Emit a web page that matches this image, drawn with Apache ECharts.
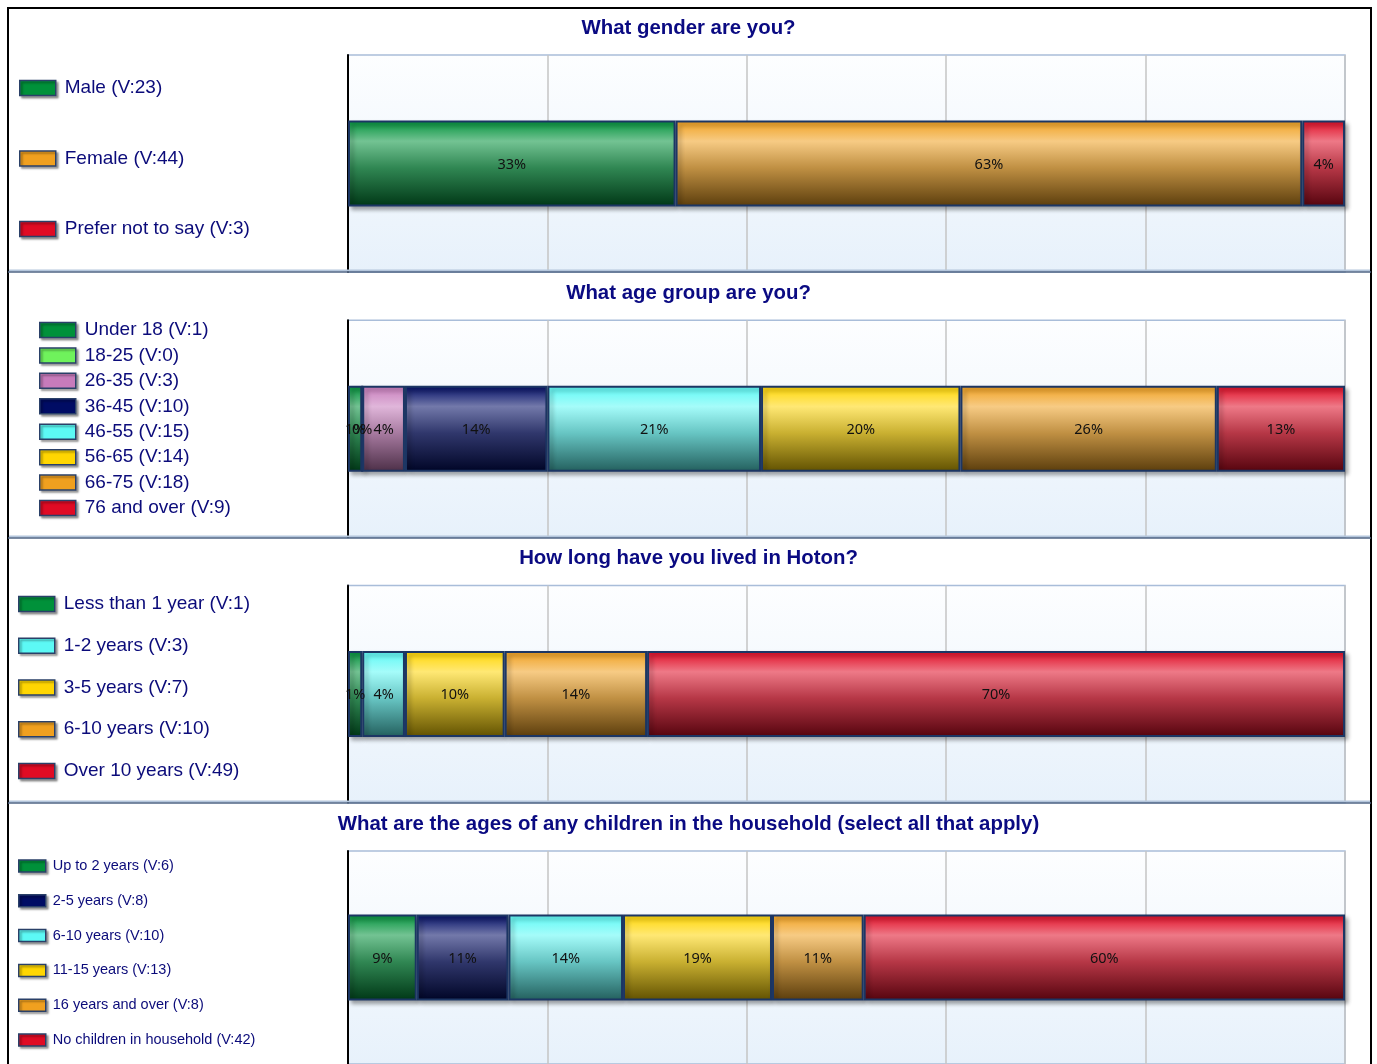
<!DOCTYPE html>
<html>
<head>
<meta charset="utf-8">
<title>Hoton survey – respondent profile</title>
<script src="https://cdn.jsdelivr.net/npm/echarts@6/dist/echarts.min.js"></script>
<style>
  html, body { margin: 0; padding: 0; background: #ffffff; }
  #chart { width: 1377px; height: 1064px; }
</style>
</head>
<body>
<div id="chart"></div>
<script>
// ---- Survey questions and answers ----
const questionTitles = [
  'What gender are you?',
  'What age group are you?',
  'How long have you lived in Hoton?',
  'What are the ages of any children in the household (select all that apply)'
];

const genderNames = ['Male', 'Female', 'Prefer not to say'];
const genderValues = [23, 44, 3];

const ageNames = ['Under 18', '18-25', '26-35', '36-45', '46-55', '56-65', '66-75', '76 and over'];
const ageValues = [1, 0, 3, 10, 15, 14, 18, 9];

const residenceNames = ['Less than 1 year', '1-2 years', '3-5 years', '6-10 years', 'Over 10 years'];
const residenceValues = [1, 3, 7, 10, 49];

const childNames = ['Up to 2 years', '2-5 years', '6-10 years', '11-15 years', '16 years and over', 'No children in household'];
const childValues = [6, 8, 10, 13, 8, 42];

// number of people answering each question (percent labels are out of this)
const respondents = [70, 70, 70, 70];

// ---- Colours ----
const GREEN = '#00913a', LIME = '#6ff25c', PINK = '#c77bbb', NAVY = '#000c64',
      CYAN = '#5cf9f5', YELLOW = '#ffd602', ORANGE = '#f0a01f', RED = '#e00b24';

const genderColors = [GREEN, ORANGE, RED];
const ageColors = [GREEN, LIME, PINK, NAVY, CYAN, YELLOW, ORANGE, RED];
const residenceColors = [GREEN, CYAN, YELLOW, ORANGE, RED];
const childColors = [GREEN, NAVY, CYAN, YELLOW, ORANGE, RED];

const questions = [
  { names: genderNames, values: genderValues, colors: genderColors },
  { names: ageNames, values: ageValues, colors: ageColors },
  { names: residenceNames, values: residenceValues, colors: residenceColors },
  { names: childNames, values: childValues, colors: childColors }
];

// ---- Layout ----
const PANEL_H = 265.3;
const GRID_LEFT = 348, GRID_WIDTH = 997, GRID_HEIGHT = 217;
const gridTops = [55, 55 + PANEL_H, 55 + 2 * PANEL_H, 851];
const titleTops = [17, 17 + PANEL_H, 17 + 2 * PANEL_H, 813];
const separators = [272, 538, 803];

const legendLayouts = [
  { left: 19, top: 78,  w: 36, h: 15, gap: 50.5,  size: 19,   lh: 20, pad: 4 },
  { left: 39, top: 320, w: 36, h: 15, gap: 5.43,  size: 19,   lh: 20, pad: 4 },
  { left: 18, top: 594, w: 36, h: 15, gap: 21.75, size: 19,   lh: 20, pad: 4 },
  { left: 18, top: 858, w: 27, h: 12, gap: 18.8,  size: 14.5, lh: 16, pad: 2 }
];

// ---- Helpers ----
function hexToRgb(hex) {
  const n = parseInt(hex.slice(1), 16);
  return [(n >> 16) & 255, (n >> 8) & 255, n & 255];
}
function mix(hex, target, t) {
  const c = hexToRgb(hex);
  const r = c.map((v, i) => Math.round(v + (target[i] - v) * t));
  return 'rgb(' + r.join(',') + ')';
}
// glossy cylinder-like shading across the bar's height
function barGradient(hex) {
  return new echarts.graphic.LinearGradient(0, 0, 0, 1, [
    { offset: 0,    color: hex },
    { offset: 0.24, color: mix(hex, [255, 255, 255], 0.45) },
    { offset: 0.55, color: mix(hex, [120, 120, 120], 0.4) },
    { offset: 1,    color: mix(hex, [0, 0, 0], 0.62) }
  ]);
}

const chart = echarts.init(document.getElementById('chart'), null, { renderer: 'canvas' });

const title = [], grid = [], xAxis = [], yAxis = [], legend = [], series = [];

questions.forEach((q, qi) => {
  const total = q.values.reduce((a, b) => a + b, 0);

  title.push({
    text: questionTitles[qi],
    left: 'center',
    top: titleTops[qi],
    padding: 0,
    textStyle: { color: '#0a0a82', fontSize: 20.4, fontWeight: 'bold', fontFamily: 'Liberation Sans, Arial, sans-serif', lineHeight: 22 }
  });

  grid.push({
    left: GRID_LEFT, width: GRID_WIDTH, top: gridTops[qi], height: GRID_HEIGHT,
    show: true,
    backgroundColor: new echarts.graphic.LinearGradient(0, 0, 0, 1, [
      { offset: 0, color: '#fdfeff' },
      { offset: 1, color: '#e7f1fb' }
    ]),
    borderColor: '#a9bdd9',
    borderWidth: 1.5
  });

  xAxis.push({
    type: 'value', gridIndex: qi, min: 0, max: total, interval: total / 5,
    axisLabel: { show: false }, axisTick: { show: false }, axisLine: { show: false },
    splitLine: { show: true, lineStyle: { color: '#c4c4c4', width: 1.5 } }
  });

  yAxis.push({
    type: 'category', gridIndex: qi, data: [''],
    axisLabel: { show: false }, axisTick: { show: false },
    axisLine: { show: true, lineStyle: { color: '#000000', width: 2 } },
    splitLine: { show: false }
  });

  const L = legendLayouts[qi];
  const valueOf = {};
  q.names.forEach((n, i) => { valueOf[n] = q.values[i]; });
  legend.push({
    orient: 'vertical',
    left: L.left, top: L.top,
    itemWidth: L.w, itemHeight: L.h, itemGap: L.gap,
    padding: 0,
    selectedMode: false,
    icon: 'rect',
    itemStyle: {
      borderColor: '#2a4068', borderWidth: 1.5,
      shadowColor: 'rgba(0,0,0,0.35)', shadowBlur: 2, shadowOffsetX: 2, shadowOffsetY: 2
    },
    textStyle: {
      color: '#0b0b7a', fontSize: L.size, lineHeight: L.lh,
      fontFamily: 'Liberation Sans, Arial, sans-serif', padding: [0, 0, 0, L.pad]
    },
    formatter: name => name + ' (V:' + valueOf[name] + ')',
    data: q.names.map((n, i) => ({ name: n, itemStyle: { color: q.colors[i] } }))
  });

  q.names.forEach((n, i) => {
    series.push({
      type: 'bar',
      name: n,
      stack: 'q' + qi,
      xAxisIndex: qi, yAxisIndex: qi,
      barWidth: 86,
      data: [q.values[i]],
      itemStyle: {
        color: barGradient(q.colors[i]),
        borderColor: '#1c3664', borderWidth: 2,
        shadowColor: 'rgba(0,0,0,0.32)', shadowBlur: 4, shadowOffsetX: 3, shadowOffsetY: 3
      },
      label: {
        show: true, position: 'inside', offset: [0, 1],
        color: '#111111', fontSize: 14.5, fontFamily: 'Noto Sans, DejaVu Sans, sans-serif',
        formatter: p => Math.round(p.value / respondents[qi] * 100) + '%'
      },
      emphasis: { disabled: true },
      animation: false
    });
  });
});

// panel frame and dividers
const graphic = [
  {
    type: 'rect', z: 100, silent: true,
    shape: { x: 8, y: 8, width: 1363, height: 1080 },
    style: { fill: null, stroke: '#000000', lineWidth: 2 }
  }
];
separators.forEach(y => {
  graphic.push({
    type: 'line', z: 99, silent: true,
    shape: { x1: 8, y1: y - 1.5, x2: 1371, y2: y - 1.5 },
    style: { stroke: '#b4c6dc', lineWidth: 2 }
  });
  graphic.push({
    type: 'line', z: 100, silent: true,
    shape: { x1: 8, y1: y, x2: 1371, y2: y },
    style: { stroke: '#4f6584', lineWidth: 1.5 }
  });
});

chart.setOption({
  animation: false,
  backgroundColor: '#ffffff',
  title, grid, xAxis, yAxis, legend, series, graphic
});
</script>
</body>
</html>
